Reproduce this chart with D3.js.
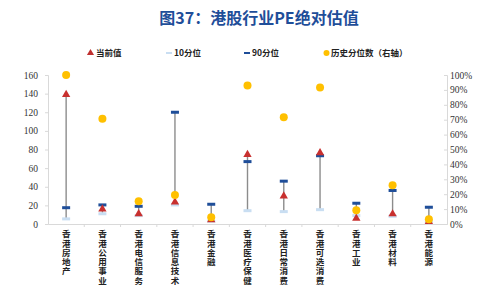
<!DOCTYPE html>
<html>
<head>
<meta charset="utf-8">
<script src="https://cdn.jsdelivr.net/npm/d3@7/dist/d3.min.js"></script>
<style>
  body { margin: 0; background: #fff; }
  svg { display: block; }
</style>
</head>
<body>
<svg id="chart" width="487" height="285"></svg>
<script>
const categories = ['香港房地产', '香港公用事业', '香港电信服务', '香港信息技术', '香港金融', '香港医疗保健',
  '香港日常消费', '香港可选消费', '香港工业', '香港材料', '香港能源'];
const current = [139, 16, 11, 23.5, 4.5, 74.5, 30, 76.5, 6, 10.8, 2.5];
const pct10 = [5.5, 11, 9, 20.5, 3, 14.3, 13.3, 15.4, 9, 8.3, 2.5];
const pct90 = [17.5, 20.5, 19, 120, 21.2, 67, 46, 73.3, 22.3, 36, 18];
const histPct = [1.0, 0.707, 0.153, 0.195, 0.045, 0.93, 0.716, 0.916, 0.092, 0.26, 0.032];
const yTicks = [0, 20, 40, 60, 80, 100, 120, 140, 160];
const y2Ticks = [0, 0.1, 0.2, 0.3, 0.4, 0.5, 0.6, 0.7, 0.8, 0.9, 1.0];

const svg = d3.select('#chart');
const m = { left: 48, right: 447, top: 75, bottom: 224 };

const x = d3.scaleBand().domain(categories).range([m.left, m.right]);
const y = d3.scaleLinear().domain([0, 160]).range([m.bottom, m.top]);
const y2 = d3.scaleLinear().domain([0, 1]).range([m.bottom, m.top]);
const cx = d => x(d) + x.bandwidth() / 2;

// title
svg.append('text')
  .attr('x', 259).attr('y', 24)
  .attr('text-anchor', 'middle')
  .attr('font-family', '"Noto Sans CJK SC", sans-serif')
  .attr('font-weight', 'bold')
  .attr('font-size', 16)
  .attr('fill', '#1F4E99')
  .text('图37：港股行业PE绝对估值');

// legend
const legendFont = '"Noto Sans CJK SC", serif';
const lg = svg.append('g').attr('font-family', legendFont).attr('font-size', 8.5)
  .attr('font-weight', 'bold').attr('fill', '#222');
lg.append('path').attr('d', d3.symbol(d3.symbolTriangle, 22)()).attr('transform', 'translate(90.5,53)').attr('fill', '#C0302F');
lg.append('text').attr('x', 96).attr('y', 56).text('当前值');
lg.append('rect').attr('x', 166).attr('y', 52).attr('width', 6).attr('height', 2).attr('fill', '#C9DEF2');
lg.append('text').attr('x', 174).attr('y', 56).text('10分位');
lg.append('rect').attr('x', 244).attr('y', 52).attr('width', 6).attr('height', 2).attr('fill', '#1F4E99');
lg.append('text').attr('x', 252).attr('y', 56).text('90分位');
lg.append('circle').attr('cx', 326.5).attr('cy', 53).attr('r', 3).attr('fill', '#FFC000');
lg.append('text').attr('x', 331).attr('y', 56).text('历史分位数（右轴）');

// axes
const axisColor = '#D9D9D9';
const tickFont = '"Liberation Serif", "Times New Roman", serif';

const yAxis = svg.append('g').attr('transform', `translate(${m.left},0)`)
  .call(d3.axisLeft(y).tickValues(yTicks).tickSize(3).tickPadding(7));
const y2Axis = svg.append('g').attr('transform', `translate(${m.right},0)`)
  .call(d3.axisRight(y2).tickValues(y2Ticks).tickSize(-3).tickPadding(3).tickFormat(d3.format('.0%')));
const xAxis = svg.append('g').attr('transform', `translate(0,${m.bottom})`)
  .call(d3.axisBottom(x).tickSize(0).tickFormat(''));

[yAxis, y2Axis, xAxis].forEach(g => {
  g.select('.domain').attr('stroke', axisColor);
  g.selectAll('.tick line').attr('stroke', axisColor);
  g.selectAll('.tick text').attr('font-family', tickFont).attr('font-size', 9.5).attr('fill', '#333');
});

// separators between categories on x axis
svg.append('g').selectAll('line')
  .data(categories.slice(1))
  .join('line')
  .attr('x1', d => x(d)).attr('x2', d => x(d))
  .attr('y1', m.bottom).attr('y2', m.bottom + 3)
  .attr('stroke', axisColor);

// vertical category labels
svg.append('g').selectAll('text')
  .data(categories)
  .join('text')
  .attr('x', d => cx(d))
  .attr('y', 230)
  .attr('writing-mode', 'tb')
  .style('writing-mode', 'vertical-rl')
  .style('letter-spacing', '0.75px')
  .attr('font-family', '"Noto Sans CJK SC", serif')
  .attr('font-size', 8.5)
  .attr('font-weight', 'bold')
  .attr('fill', '#222')
  .text(d => d);

// high-low lines
const rows = categories.map((c, i) => ({ c, cur: current[i], p10: pct10[i], p90: pct90[i], h: histPct[i] }));
svg.append('g').selectAll('line')
  .data(rows)
  .join('line')
  .attr('x1', d => cx(d.c)).attr('x2', d => cx(d.c))
  .attr('y1', d => y(Math.min(d.cur, d.p10, d.p90)))
  .attr('y2', d => y(Math.max(d.cur, d.p10, d.p90)))
  .attr('stroke', '#8C8C8C')
  .attr('stroke-width', 1.4);

// 10th percentile marks
svg.append('g').selectAll('rect')
  .data(rows)
  .join('rect')
  .attr('x', d => cx(d.c) - 4).attr('y', d => y(d.p10) - 1.5)
  .attr('width', 8).attr('height', 3)
  .attr('fill', '#C9DEF2');

// 90th percentile marks
svg.append('g').selectAll('rect')
  .data(rows)
  .join('rect')
  .attr('x', d => cx(d.c) - 4).attr('y', d => y(d.p90) - 1.5)
  .attr('width', 8).attr('height', 3)
  .attr('fill', '#1F4E99');

// current value triangles
svg.append('g').selectAll('path')
  .data(rows)
  .join('path')
  .attr('d', d3.symbol(d3.symbolTriangle, 30)())
  .attr('transform', d => `translate(${cx(d.c)},${y(d.cur)})`)
  .attr('fill', '#C8302F');

// historical percentile dots (right axis)
svg.append('g').selectAll('circle')
  .data(rows)
  .join('circle')
  .attr('cx', d => cx(d.c)).attr('cy', d => y2(d.h))
  .attr('r', 4)
  .attr('fill', '#FFC000');
</script>
</body>
</html>
